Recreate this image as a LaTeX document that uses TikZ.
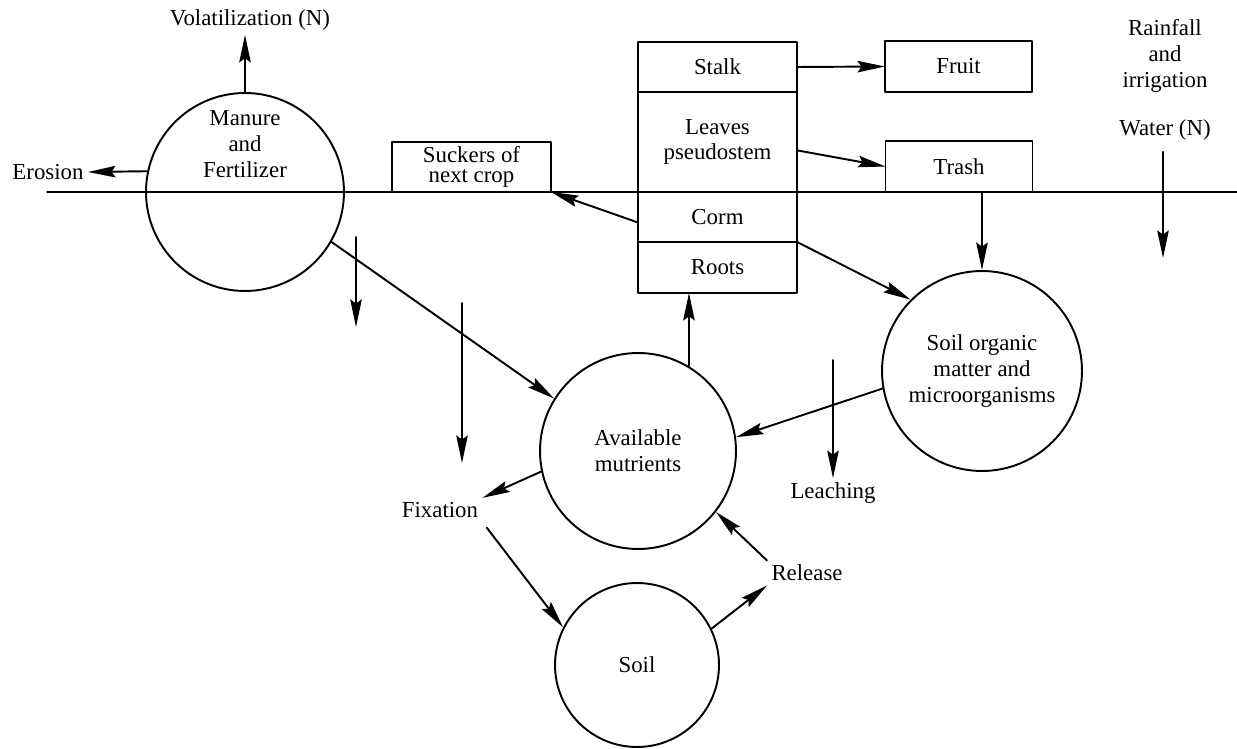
\documentclass[tikz,border=0pt]{standalone}
\usepackage{fontspec}
\setmainfont{Liberation Serif}
\usetikzlibrary{arrows.meta}
\begin{document}
\begin{tikzpicture}[x=0.02cm, y=-0.02cm, line join=round, line cap=round, line width=1.1pt,
	font=\fontsize{13}{14.7}\selectfont,
	flow/.style={-{Stealth[length=5.5mm,width=2.3mm,inset=0.8mm]}, line width=1.1pt},
	pool/.style={draw, circle, align=center, inner sep=0pt},
	part/.style={draw, rectangle, minimum width=3.18cm, align=center, inner sep=0pt, outer sep=0pt},
	lbl/.style={align=center, inner sep=2pt}]
	\useasboundingbox (0,0) rectangle (1237,749);
	\coordinate (gl) at (47,192); \coordinate (gr) at (1237,192);
	\draw (gl) -- (gr);
	% pools
	\node[pool, minimum size=3.96cm] (manure) at (245,192) {};
	\node[lbl] (manuretxt) at (245,144) {Manure\\and\\Fertilizer};
	\node[pool, minimum size=3.92cm] (avail) at (638,451) {Available\\mutrients};
	\node[pool, minimum size=4cm] (som) at (982,371) {Soil organic\\matter and\\microorganisms};
	\node[pool, minimum size=3.28cm] (soil) at (637,665) {Soil};
	% plant
	\node[part, minimum height=1cm] (stalk) at (717.5,67) {Stalk};
	\node[part, minimum height=2cm, anchor=north] (leaves) at (stalk.south) {Leaves\\pseudostem};
	\node[part, minimum height=1cm, anchor=north] (corm) at (leaves.south) {Corm};
	\node[part, minimum height=1.02cm, anchor=north] (roots) at (corm.south) {Roots};
	\node[part, minimum width=2.94cm, minimum height=1.02cm] (fruit) at (958.5,66.5) {Fruit};
	\node[part, minimum width=2.94cm, minimum height=1.02cm] (trash) at (959,166.5) {Trash};
	\node[part, minimum height=1cm, font=\fontsize{13}{11.5}\selectfont] (suckers) at (471.5,167) {Suckers of\\next crop};
	% labels
	\node[lbl] (volat) at (250,20) {Volatilization (N)};
	\node[lbl, anchor=east] (erosion) at (88,172) {Erosion};
	\node[lbl] (rain) at (1165,56) {Rainfall\\and\\irrigation};
	\node[lbl] (water) at (1165,130) {Water (N)};
	\node[lbl] (leaching) at (833,493) {Leaching};
	\node[lbl] (fixation) at (440,510) {Fixation};
	\node[lbl] (release) at (807,573) {Release};
	% flows
	\draw[flow] (manure.north) -- (manure.north |- volat.south);
	\draw[flow] (manure.168) -- (erosion.east);
	\draw[flow] (stalk.east) -- (fruit.west);
	\draw[flow] (leaves.-6) -- (trash.west);
	\draw[flow] (corm.184) -- (suckers.south east);
	\draw[flow] (roots.north east) -- (som.135);
	\draw[flow] (som.north |- trash.south) -- (som.north);
	\draw[flow] (manure.-30) -- (avail.148);
	\draw[flow] (avail.59) -- (avail.59 |- roots.south);
	\draw[flow] (som.190) -- (avail.8);
	\draw[flow] (avail.192) -- (fixation.north east);
	\draw[flow, shorten <=4pt] (fixation.south east) -- (soil.153);
	\draw[flow] (soil.26) -- (release.south west);
	\draw[flow] (release.north west) -- (avail.-38);
	\coordinate (wend) at (1163,258);
	\draw[flow, shorten <=4pt] (water.south -| wend) -- (wend);
	\coordinate (leachtop) at (833,360);
	\draw[flow] (leachtop) -- (leaching.north);
	\foreach \n/\x/\a/\b in {lossa/356/237/327, lossb/462/303/463}{
		\coordinate (\n top) at (\x,\a); \coordinate (\n end) at (\x,\b);
		\draw[flow] (\n top) -- (\n end);}
\end{tikzpicture}
\end{document}
